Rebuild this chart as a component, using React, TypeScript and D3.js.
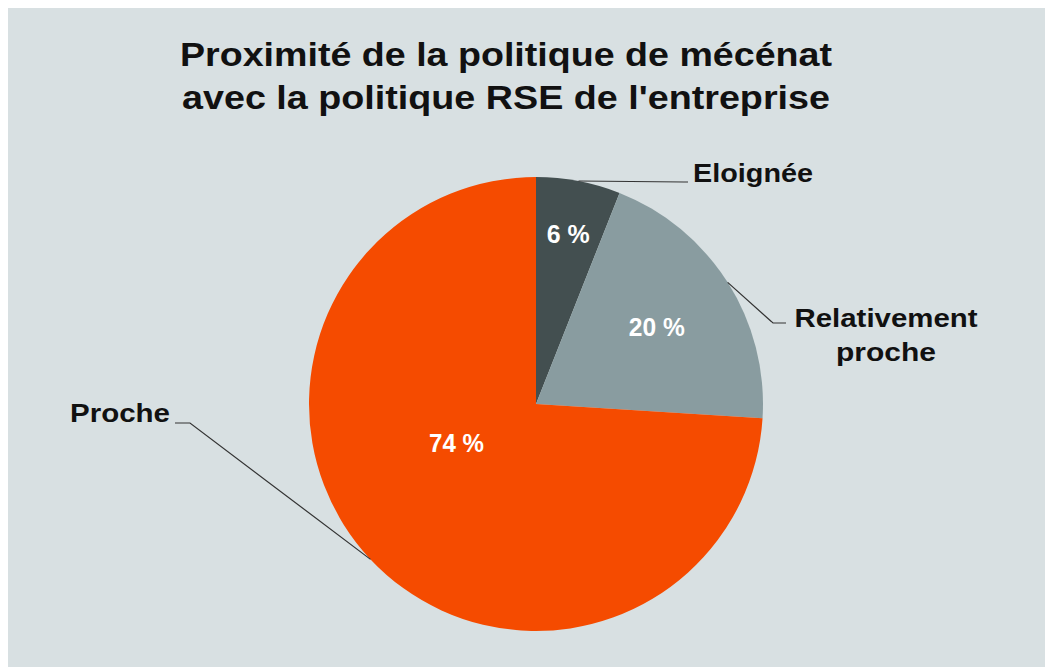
import React from 'react';
import * as d3 from 'd3';

const categories = ['Eloignée', 'Relativement proche', 'Proche'];
const values = [6, 20, 74];
const colors = ['#434f50', '#899ca0', '#f54b00'];
const titleLines = ['Proximité de la politique de mécénat', "avec la politique RSE de l'entreprise"];

const width = 1037;
const height = 659;
const cx = 528;
const cy = 396;
const radius = 227;

// label layout (not data): where the % text and the category text sit
const pctLabelPos = [
  { r: 0.76, a: 0, w: 43 },
  { r: 0.63, a: 0, w: 56 },
  { r: 0.39, a: 17, w: 55 },
];
const catLabel = [
  { elbow: [676, 174], endX: 680, x: 685, y: 174, anchor: 'start', lines: ['Eloignée'], w: [120] },
  { elbow: [765, 315], endX: 778, x: 878, y: 319, anchor: 'middle', lines: ['Relativement', 'proche'], w: [183, 100] },
  { elbow: [182, 415], endX: 167, x: 162, y: 414, anchor: 'end', lines: ['Proche'], w: [100] },
];
const titleW = [652, 648];

export default function App() {
  const pie = d3.pie<number>().sort(null).value(d => d);
  const arcs = pie(values);
  const arc = d3.arc<d3.PieArcDatum<number>>().innerRadius(0).outerRadius(radius);
  const font = '"Liberation Sans", Arial, sans-serif';

  return (
    <div style={{ position: 'fixed', left: 8, top: 8 }}>
      <svg width={width} height={height} style={{ display: 'block', fontFamily: font }}>
        <rect width={width} height={height} fill="#d8e0e2" />
        {titleLines.map((t, i) => (
          <text key={i} x={498} y={58 + i * 43} textAnchor="middle" fontSize={32.5} fontWeight="bold" fill="#111"
            textLength={titleW[i]} lengthAdjust="spacingAndGlyphs">
            {t}
          </text>
        ))}
        <g transform={`translate(${cx},${cy})`}>
          {arcs.map((a, i) => (
            <path key={i} d={arc(a) || ''} fill={colors[i]} />
          ))}
          {arcs.map((a, i) => {
            const mid = (a.startAngle + a.endAngle) / 2 + (pctLabelPos[i].a * Math.PI) / 180;
            const r = radius * pctLabelPos[i].r;
            return (
              <text key={i} x={Math.sin(mid) * r} y={-Math.cos(mid) * r} dy="0.35em" textAnchor="middle"
                fontSize={25} fontWeight="bold" fill="#fff"
                textLength={pctLabelPos[i].w} lengthAdjust="spacingAndGlyphs">
                {`${a.data} %`}
              </text>
            );
          })}
        </g>
        {arcs.map((a, i) => {
          const mid = (a.startAngle + a.endAngle) / 2;
          const px = cx + Math.sin(mid) * radius;
          const py = cy - Math.cos(mid) * radius;
          const c = catLabel[i];
          const line = d3.line()([[px, py], [c.elbow[0], c.elbow[1]], [c.endX, c.elbow[1]]]);
          const lines = categories[i] === 'Relativement proche' ? c.lines : [categories[i]];
          return (
            <g key={i}>
              <path d={line || ''} fill="none" stroke="#333" strokeWidth={1.2} />
              {lines.map((l, j) => (
                <text key={j} x={c.x} y={c.y + j * 34} textAnchor={c.anchor}
                  fontSize={26} fontWeight="bold" fill="#111"
                  textLength={c.w[j]} lengthAdjust="spacingAndGlyphs">
                  {l}
                </text>
              ))}
            </g>
          );
        })}
      </svg>
    </div>
  );
}
